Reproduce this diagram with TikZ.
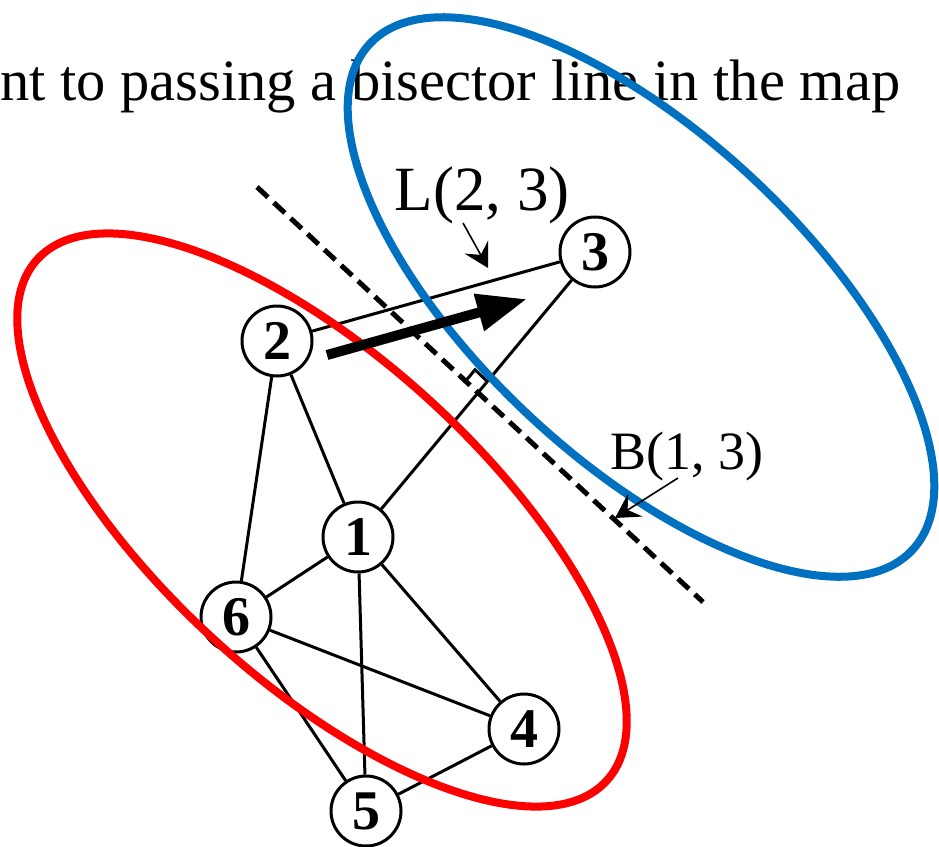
\documentclass[tikz,border=0pt]{standalone}
\usepackage{fontspec}
\setmainfont{Liberation Serif}
\usetikzlibrary{arrows.meta,calc}
\definecolor{mapblue}{RGB}{0,112,192}
\definecolor{mapred}{RGB}{255,0,0}

\begin{document}
\begin{tikzpicture}[x=1pt,y=-1pt,>=Stealth,
  vtx/.style={draw,circle,fill=white,line width=3pt,minimum size=70pt,inner sep=0pt,
    font=\fontsize{56}{56}\selectfont\bfseries},
  edge/.style={line width=3pt},
  tag/.style={inner sep=0pt,anchor=base},
  pointer/.style={line width=1.6pt,-{Stealth[length=24pt,width=27pt,inset=9pt]}}]
\useasboundingbox (0,0) rectangle (939,846);
\node[anchor=base west,inner sep=0pt,font=\fontsize{58.5}{60}\selectfont] (line) at (0,100)
  {nt to passing a bisector line in the map};
% graph
\node[vtx] (n1) at (358,537) {1};
\node[vtx] (n2) at (277,341) {2};
\node[vtx] (n3) at (595,252) {3};
\node[vtx] (n4) at (524,729) {4};
\node[vtx] (n5) at (366,811) {5};
\node[vtx] (n6) at (236,617) {6};
\draw[edge] (n2)--(n3);
\draw[edge] (n3)--(n1);
\draw[edge] (n2)--(n1);
\draw[edge] (n2)--(n6);
\draw[edge] (n1)--(n6);
\draw[edge] (n1)--(n5);
\draw[edge] (n1)--(n4);
\draw[edge] (n6)--(n4);
\draw[edge] (n6)--(n5);
\draw[edge] (n5)--(n4);
% bisector of 1 and 3
\coordinate (bisA) at (257,187);
\coordinate (bisB) at (703,602);
\draw[line width=5pt,dash pattern=on 15pt off 8pt] (bisA)--(bisB);
\coordinate (mid) at ($(n1.center)!0.5!(n3.center)$);
\coordinate (ra1) at ($(mid)!17pt!(bisA)$);
\coordinate (ra2) at ($(mid)!17pt!(n3.center)$);
\draw[line width=3pt] (ra1)--($(ra1)+(ra2)-(mid)$)--(ra2);
% the two groups
\draw[mapred,line width=8pt,rotate around={-42.5:(322,520)}] (322,520) ellipse [x radius=386,y radius=161];
\draw[mapblue,line width=8pt,rotate around={-43:(641,297)}] (641,297) ellipse [x radius=371,y radius=163];
% move of node 2
\coordinate (mvS) at (327,355);
\coordinate (mvE) at (527,299);
\draw[line width=10pt,-{Triangle[length=50pt,width=36pt]}] (mvS)--(mvE);
% labels
\node[tag,font=\fontsize{63}{63}\selectfont] (lab23) at (482,210) {L(2, 3)};
\node[tag,font=\fontsize{54}{54}\selectfont] (lab13) at (687,469) {B(1, 3)};
\coordinate (ptL) at (463,223);
\coordinate (tipL) at (488,268);
\coordinate (ptB) at (678,478);
\coordinate (tipB) at (615,518);
\draw[pointer] (ptL)--(tipL);
\draw[pointer] (ptB)--(tipB);
\end{tikzpicture}
\end{document}
